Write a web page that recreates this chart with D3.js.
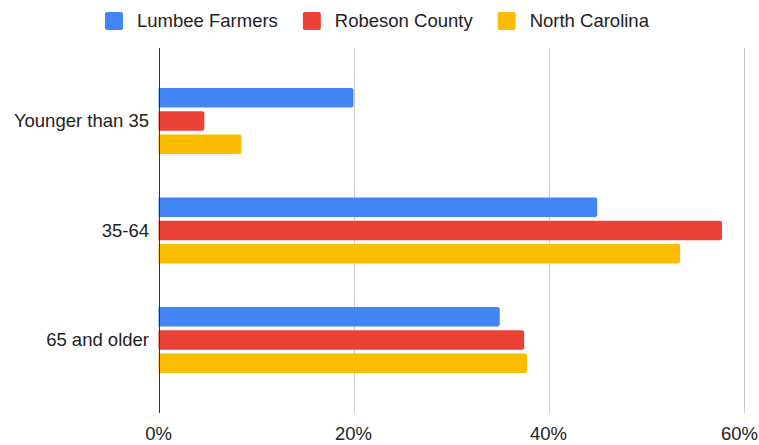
<!DOCTYPE html>
<html><head><meta charset="utf-8">
<script src="https://cdn.jsdelivr.net/npm/d3@7"></script>
<style>body{margin:0;background:#fff}svg{display:block}text{font-family:"Liberation Sans",Arial,sans-serif}</style>
</head><body><svg id="c" width="759" height="445"></svg>
<script>
const categories = ["Younger than 35", "35-64", "65 and older"];
const seriesNames = ["Lumbee Farmers", "Robeson County", "North Carolina"];
const lumbee = [20, 45, 35];
const robeson = [4.7, 57.8, 37.5];
const northCarolina = [8.5, 53.5, 37.8];
const colors = ["#4285F4", "#EA4335", "#FBBC04"];
const xTicks = [0, 20, 40, 60];

const series = [lumbee, robeson, northCarolina];
const svg = d3.select("#c");
const fs = 18.5;
const x = d3.scaleLinear().domain([0, 60]).range([158.5, 743.5]);
const y = d3.scaleBand().domain(categories).range([48, 413]).paddingInner(0).paddingOuter(0.167);
const inner = d3.scaleBand().domain(seriesNames).range([-33, 33]).paddingInner(0.167);

// gridlines
svg.append("g").selectAll("line").data(xTicks.filter(d => d > 0)).join("line")
  .attr("x1", d => Math.round(x(d)) + 0.5).attr("x2", d => Math.round(x(d)) + 0.5)
  .attr("y1", 48).attr("y2", 413).attr("stroke", "#cccccc").attr("stroke-width", 1);

// bars (rounded right end only)
function barPath(x0, x1, y0, h, r) {
  return `M${x0},${y0}H${x1 - r}Q${x1},${y0} ${x1},${y0 + r}V${y0 + h - r}Q${x1},${y0 + h} ${x1 - r},${y0 + h}H${x0}Z`;
}
const groups = svg.append("g").selectAll("g").data(categories).join("g")
  .attr("transform", d => `translate(0,${y(d) + y.bandwidth() / 2})`);
groups.selectAll("path").data((c, i) => seriesNames.map((s, j) => ({s, j, v: series[j][i]}))).join("path")
  .attr("d", d => barPath(x(0), x(d.v), inner(d.s), inner.bandwidth(), 2))
  .attr("fill", d => colors[d.j]);

// zero axis line
svg.append("line").attr("x1", Math.round(x(0)) + 0.5).attr("x2", Math.round(x(0)) + 0.5)
  .attr("y1", 48).attr("y2", 413).attr("stroke", "#333333").attr("stroke-width", 1);

// x tick labels
svg.append("g").selectAll("text").data(xTicks).join("text")
  .attr("x", d => x(d)).attr("y", 440).attr("text-anchor", "middle")
  .attr("font-size", fs).attr("fill", "#222").text(d => d + "%")
  .each(function(d) {
    const w = this.getComputedTextLength();
    const cx = Math.min(x(d), 759 - w / 2 - 1);
    d3.select(this).attr("x", cx);
  });

// y labels
svg.append("g").selectAll("text").data(categories).join("text")
  .attr("x", 149).attr("y", d => y(d) + y.bandwidth() / 2).attr("dy", "0.35em")
  .attr("text-anchor", "end").attr("font-size", fs).attr("fill", "#222").text(d => d);

// legend
let lx = 105;
seriesNames.forEach((s, j) => {
  svg.append("rect").attr("x", lx).attr("y", 12).attr("width", 18).attr("height", 18)
    .attr("rx", 2).attr("fill", colors[j]);
  const t = svg.append("text").attr("x", lx + 32).attr("y", 27).attr("font-size", fs)
    .attr("fill", "#222").text(s);
  const w = t.node().getComputedTextLength();
  lx = lx + 32 + w + 25;
});
</script></body></html>
